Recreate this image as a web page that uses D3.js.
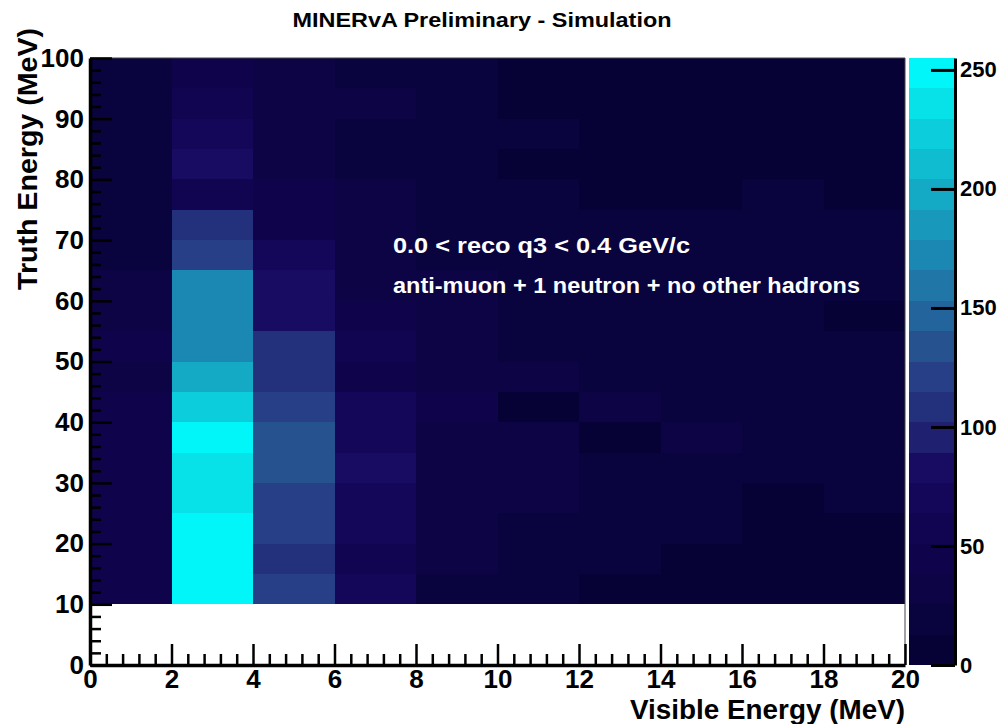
<!DOCTYPE html>
<html>
<head>
<meta charset="utf-8">
<script src="https://cdn.jsdelivr.net/npm/d3@7"></script>
<style>
  html, body { margin: 0; padding: 0; background: #ffffff; }
  svg { display: block; font-family: "Liberation Sans", Arial, Helvetica, sans-serif; font-weight: bold; }
</style>
</head>
<body>
<svg id="chart" width="1000" height="724"></svg>
<script>
// Visible-energy bins (lower edges, MeV), each 2 MeV wide
const visibleBinLow = [0, 2, 4, 6, 8, 10, 12, 14, 16, 18];
// Truth-energy bins (lower edges, MeV), each 5 MeV wide
const truthBinLow = [10, 15, 20, 25, 30, 35, 40, 45, 50, 55, 60, 65, 70, 75, 80, 85, 90, 95];

// Event counts per visible-energy column, ordered by truth energy 10 -> 100 MeV
const counts_0_2   = [44, 42, 40, 45, 47, 46, 41, 36, 40, 34, 30, 24, 22, 21, 20, 19, 18, 15];
const counts_2_4   = [255, 252, 250, 236, 238, 249, 222, 200, 170, 168, 171, 121, 108, 57, 82, 72, 58, 45];
const counts_4_6   = [124, 108, 120, 123, 133, 136, 119, 110, 106, 84, 86, 70, 46, 42, 32, 30, 31, 38];
const counts_6_8   = [70, 52, 67, 69, 80, 68, 66, 48, 55, 42, 35, 30, 31, 29, 14, 15, 36, 18];
const counts_8_10  = [20, 30, 31, 33, 28, 29, 40, 32, 33, 30, 29, 22, 21, 22, 16, 17, 20, 21];
const counts_10_12 = [13, 20, 22, 27, 28, 27, 11, 30, 18, 16, 17, 14, 14, 15, 10, 16, 11, 11];
const counts_12_14 = [11, 17, 13, 14, 14, 11, 28, 14, 15, 14, 13, 18, 19, 12, 10, 11, 10, 10];
const counts_14_16 = [11, 12, 14, 14, 15, 27, 14, 15, 14, 16, 17, 18, 14, 12, 11, 10, 10, 9];
const counts_16_18 = [11, 12, 12, 11, 14, 14, 13, 14, 14, 15, 14, 15, 20, 13, 11, 10, 10, 9];
const counts_18_20 = [10, 11, 11, 16, 13, 13, 13, 13, 13, 11, 13, 13, 13, 11, 10, 9, 9, 8];

const xTicks = [0, 2, 4, 6, 8, 10, 12, 14, 16, 18, 20];
const yTicks = [0, 10, 20, 30, 40, 50, 60, 70, 80, 90, 100];
const zTicks = [0, 50, 100, 150, 200, 250];

// 20-step colour palette, low -> high
const palette = [
  "#060236", "#09033e", "#0c0445", "#0f044c", "#110552",
  "#14075a", "#170c62", "#1f2070", "#23307c", "#263f86",
  "#275290", "#24649c", "#2076a7", "#1b88b3", "#1898bb",
  "#14a9c4", "#10bccf", "#0bcddb", "#06e2e8", "#00f6f8"
];

const columns = [counts_0_2, counts_2_4, counts_4_6, counts_6_8, counts_8_10,
                 counts_10_12, counts_12_14, counts_14_16, counts_16_18, counts_18_20];
const xBinWidth = 2, yBinWidth = 5;

const cells = [];
columns.forEach((col, i) => {
  col.forEach((v, j) => {
    cells.push({ x0: visibleBinLow[i], y0: truthBinLow[j], value: v });
  });
});

const svg = d3.select("#chart");
const plotL = 90, plotR = 905, plotT = 58, plotB = 665;

const x = d3.scaleLinear().domain([0, 20]).range([plotL, plotR]);
const y = d3.scaleLinear().domain([0, 100]).range([plotB, plotT]);
const zMax = d3.max(cells, d => d.value);
const color = d3.scaleQuantize().domain([0, zMax]).range(palette);
const z = d3.scaleLinear().domain([0, zMax]).range([plotB, plotT]);

// Heat-map cells
svg.append("g")
  .attr("shape-rendering", "crispEdges")
  .selectAll("rect")
  .data(cells)
  .join("rect")
  .attr("x", d => x(d.x0))
  .attr("y", d => y(d.y0 + yBinWidth))
  .attr("width", d => x(d.x0 + xBinWidth) - x(d.x0))
  .attr("height", d => y(d.y0) - y(d.y0 + yBinWidth))
  .attr("fill", d => color(d.value));

// Frame (top and right edges)
svg.append("path")
  .attr("d", `M${plotL},${plotT}H${plotR}V${plotB}`)
  .attr("fill", "none")
  .attr("stroke", "#444")
  .attr("stroke-width", 1);

// Minor ticks
const xMinor = d3.range(0, 20.0001, 0.4).filter(v => Math.abs(v / 2 - Math.round(v / 2)) > 1e-6);
const yMinor = d3.range(0, 100.0001, 2).filter(v => v % 10 !== 0);

svg.append("g")
  .attr("transform", `translate(0,${plotB})`)
  .call(d3.axisBottom(x).tickValues(xMinor).tickSize(-11).tickSizeOuter(0).tickFormat(""))
  .call(g => g.select(".domain").remove())
  .call(g => g.selectAll("line").attr("stroke", "#000").attr("stroke-width", 2.5));

svg.append("g")
  .attr("transform", `translate(${plotL},0)`)
  .call(d3.axisLeft(y).tickValues(yMinor).tickSize(-11).tickSizeOuter(0).tickFormat(""))
  .call(g => g.select(".domain").remove())
  .call(g => g.selectAll("line").attr("stroke", "#000").attr("stroke-width", 2.5));

// Major axes
const xAxis = svg.append("g")
  .attr("transform", `translate(0,${plotB})`)
  .call(d3.axisBottom(x).tickValues(xTicks).tickSize(-21).tickSizeOuter(0).tickPadding(5).tickFormat(d3.format("d")));
const yAxis = svg.append("g")
  .attr("transform", `translate(${plotL},0)`)
  .call(d3.axisLeft(y).tickValues(yTicks).tickSize(-22).tickSizeOuter(0).tickPadding(6).tickFormat(d3.format("d")));

[xAxis, yAxis].forEach(g => {
  g.select(".domain").attr("stroke", "#000").attr("stroke-width", 3.5);
  g.selectAll(".tick line").attr("stroke", "#000").attr("stroke-width", 2.5);
  g.selectAll(".tick text")
    .attr("fill", "#000")
    .style("font-family", "'Liberation Sans', Arial, sans-serif")
    .style("font-weight", "bold")
    .style("font-size", "26px");
});

// Colour bar
const barL = 909, barR = 955;
const step = zMax / palette.length;
svg.append("g")
  .attr("shape-rendering", "crispEdges")
  .selectAll("rect")
  .data(palette)
  .join("rect")
  .attr("x", barL)
  .attr("width", barR - barL)
  .attr("y", (c, i) => z((i + 1) * step))
  .attr("height", (c, i) => z(i * step) - z((i + 1) * step))
  .attr("fill", c => c);

const zAxis = svg.append("g")
  .attr("transform", `translate(${barR},0)`)
  .call(d3.axisRight(z).tickValues(zTicks).tickSize(-24).tickSizeOuter(0).tickPadding(5).tickFormat(d3.format("d")));
zAxis.select(".domain").attr("stroke", "#000").attr("stroke-width", 3);
zAxis.selectAll(".tick line").attr("stroke", "#000").attr("stroke-width", 3);
zAxis.selectAll(".tick text")
  .attr("fill", "#000")
  .style("font-family", "'Liberation Sans', Arial, sans-serif")
  .style("font-weight", "bold")
  .style("font-size", "22px");

// Titles
svg.append("text")
  .attr("x", 482).attr("y", 27)
  .attr("text-anchor", "middle")
  .attr("textLength", 379).attr("lengthAdjust", "spacingAndGlyphs")
  .style("font-size", "21px")
  .attr("fill", "#000")
  .text("MINERvA Preliminary - Simulation");

svg.append("text")
  .attr("x", 905).attr("y", 719)
  .attr("text-anchor", "end")
  .attr("textLength", 275).attr("lengthAdjust", "spacingAndGlyphs")
  .style("font-size", "27px")
  .attr("fill", "#000")
  .text("Visible Energy (MeV)");

svg.append("text")
  .attr("transform", "translate(37,28) rotate(-90)")
  .attr("text-anchor", "end")
  .attr("textLength", 262).attr("lengthAdjust", "spacingAndGlyphs")
  .style("font-size", "27px")
  .attr("fill", "#000")
  .text("Truth Energy (MeV)");

// Selection notes
svg.append("text")
  .attr("x", 393).attr("y", 253)
  .attr("textLength", 297).attr("lengthAdjust", "spacingAndGlyphs")
  .style("font-size", "22px")
  .attr("fill", "#ffffff")
  .text("0.0 < reco q3 < 0.4 GeV/c");

svg.append("text")
  .attr("x", 393).attr("y", 293)
  .attr("textLength", 467).attr("lengthAdjust", "spacingAndGlyphs")
  .style("font-size", "22px")
  .attr("fill", "#ffffff")
  .text("anti-muon + 1 neutron + no other hadrons");
</script>
</body>
</html>
